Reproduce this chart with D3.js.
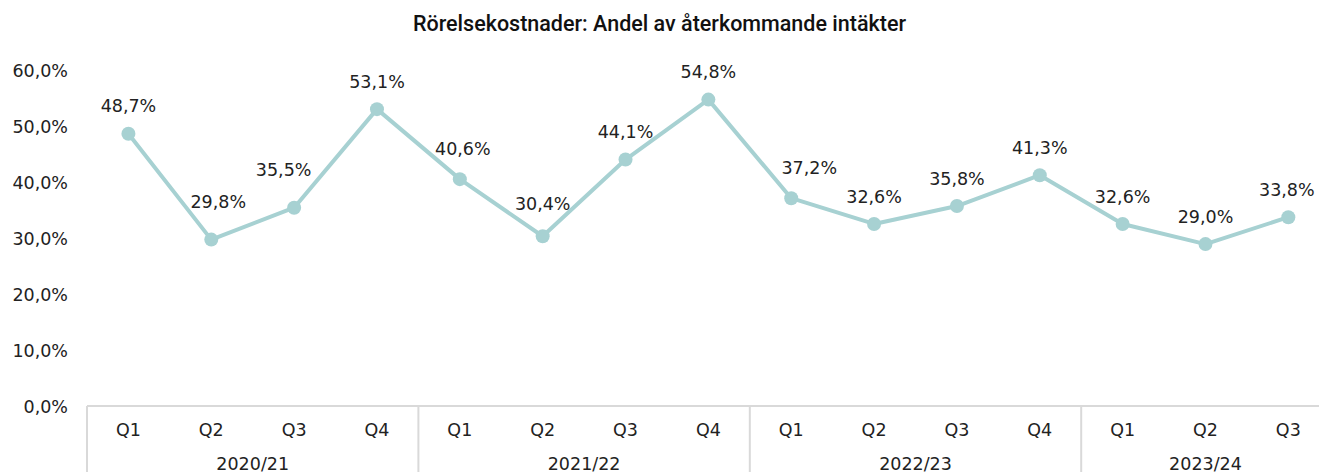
<!DOCTYPE html>
<html><head><meta charset="utf-8">
<script src="https://cdn.jsdelivr.net/npm/d3@7"></script>
<style>
html,body{margin:0;padding:0;background:#fff;}
svg{display:block;font-family:"DejaVu Sans",sans-serif;}
</style></head>
<body>
<svg id="chart" width="1319" height="472"></svg>
<script>
const title = "Rörelsekostnader: Andel av återkommande intäkter";
const quarters = ["Q1","Q2","Q3","Q4","Q1","Q2","Q3","Q4","Q1","Q2","Q3","Q4","Q1","Q2","Q3"];
const years = ["2020/21","2021/22","2022/23","2023/24"];
const yearSpans = [4,4,4,4];
const values = [48.7,29.8,35.5,53.1,40.6,30.4,44.1,54.8,37.2,32.6,35.8,41.3,32.6,29.0,33.8];
const yTicks = [0,10,20,30,40,50,60];
// manual nudges of individual data labels (dx, extra lift) as in the original
const labelNudge = [[0,0],[7,10],[-10.5,10],[0,0],[3,2.5],[0,5],[0,0.5],[0,0],[18,2.5],[0,0],[0,0],[0,0],[0,0],[0,0],[-1.5,0]];

const svg = d3.select("#chart");
const W = 1319, H = 472;
const left = 87, step = 82.85;
const x = d3.scaleBand().domain(d3.range(quarters.length)).range([left, left + quarters.length*step]);
const sepX = k => k < quarters.length ? x(k) : x(quarters.length-1) + x.bandwidth();
const y = d3.scaleLinear().domain([0,60]).range([406.5,70.5]);
const fmt = v => d3.format(".1f")(v).replace(".", ",") + "%";
const col = "#a7d1d2";
const grey = "#d9d9d9";
const fs = 17.5;

svg.append("text").attr("x", W/2).attr("y", 31).attr("text-anchor","middle")
  .attr("font-family","Roboto").attr("font-size", 21.5).attr("font-weight", 500)
  .attr("fill","#111").text(title);

// y labels
svg.append("g").selectAll("text").data(yTicks).join("text")
  .attr("x", 68).attr("y", d => y(d)).attr("dy","0.36em").attr("text-anchor","end")
  .attr("font-size", fs).attr("fill","#222").text(d => fmt(d));

// x axis line
svg.append("line").attr("x1", left).attr("x2", W).attr("y1", 406).attr("y2", 406)
  .attr("stroke", grey).attr("stroke-width", 2);
// separators
let acc = 0;
const seps = [0];
yearSpans.forEach(s => { acc += s; seps.push(acc); });
svg.append("g").selectAll("line").data(seps).join("line")
  .attr("x1", d => sepX(d)).attr("x2", d => sepX(d)).attr("y1", 406).attr("y2", H)
  .attr("stroke", grey).attr("stroke-width", 2);

// quarter labels
svg.append("g").selectAll("text").data(quarters).join("text")
  .attr("x", (d,i) => x(i) + x.bandwidth()/2).attr("y", 430).attr("dy","0.36em")
  .attr("text-anchor","middle").attr("font-size", fs).attr("fill","#222").text(d => d);
// year labels
svg.append("g").selectAll("text").data(years).join("text")
  .attr("x", (d,i) => (sepX(seps[i]) + sepX(seps[i+1]))/2).attr("y", 464).attr("dy","0.36em")
  .attr("text-anchor","middle").attr("font-size", fs).attr("fill","#222").text(d => d);

const cx = i => x(i) + x.bandwidth()/2;
svg.append("path").datum(values)
  .attr("d", d3.line().x((d,i) => cx(i)).y(d => y(d)))
  .attr("fill","none").attr("stroke", col).attr("stroke-width", 4).attr("stroke-linejoin","round");
svg.append("g").selectAll("circle").data(values).join("circle")
  .attr("cx", (d,i) => cx(i)).attr("cy", d => y(d)).attr("r", 7).attr("fill", col);
svg.append("g").selectAll("text").data(values).join("text")
  .attr("x", (d,i) => cx(i) + labelNudge[i][0])
  .attr("y", (d,i) => y(d) - 27.7 - labelNudge[i][1]).attr("dy","0.36em")
  .attr("text-anchor","middle").attr("font-size", fs).attr("fill","#222").text(d => fmt(d));
</script>
</body></html>
